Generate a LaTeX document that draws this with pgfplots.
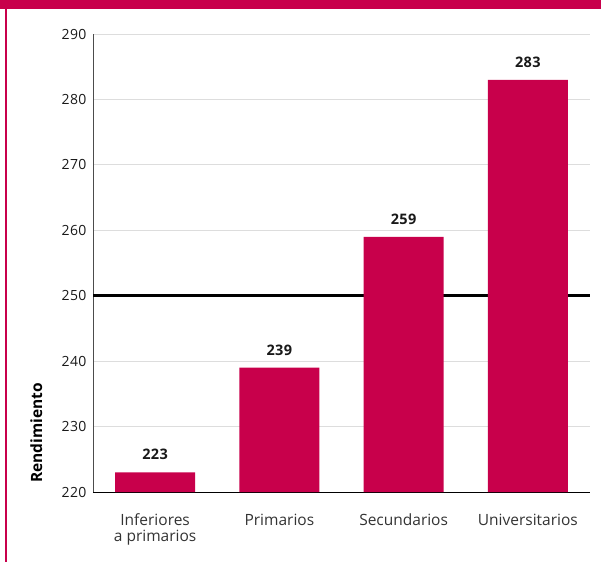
\documentclass[border=0pt]{standalone}
\usepackage{fontspec}
\setmainfont{Open Sans}
\newfontfamily\numfont[LetterSpace=3]{Open Sans}
\usepackage{pgfplots}
\pgfplotsset{compat=1.18}
\definecolor{crimson}{HTML}{C8004B}
\definecolor{gridgray}{HTML}{DDDDDD}

\begin{document}
\begin{tikzpicture}
\begin{axis}[
    scale only axis,
    width=497pt,
    height=458pt,
    xmin=-0.5, xmax=3.5,
    ymin=220, ymax=290,
    ytick={220,230,...,290},
    xtick={0,1,2,3},
    xticklabels={{\begin{tabular}[t]{@{}c@{}}Inferiores\\a primarios\end{tabular}},
      Primarios,Secundarios,Universitarios},
    major tick length=0pt,
    ymajorgrids,
    grid style={gridgray, line width=0.8pt},
    axis x line*=bottom,
    axis y line*=left,
    x axis line style={black, line width=1pt, -},
    y axis line style={black!70, line width=1pt, -},
    /pgf/number format/assume math mode=true,
    yticklabel style={font=\numfont\fontsize{14}{16}\selectfont, text=black!90, xshift=-3pt},
    xticklabel style={font=\fontsize{15.5}{16.2}\selectfont, text=black!80,
      anchor=base, yshift=-33pt},
    clip=false,
]
\addplot[black, line width=3pt] coordinates {(-0.5,250) (3.5,250)};
\addplot[ybar, bar width=80pt, fill=crimson, draw=none,
    nodes near coords,
    every node near coord/.append style={font=\numfont\fontsize{14.5}{16}\selectfont\bfseries, text=black!90, yshift=9pt}]
  coordinates {(0,223) (1,239) (2,259) (3,283)};
\end{axis}
\coordinate (O) at (current axis.south west);
\node[rotate=90, anchor=base west, font=\fontsize{15.5}{18}\selectfont\bfseries, inner sep=0pt]
  at ([shift={(-51pt,9pt)}]O) {Rendimiento};
\fill[crimson] ([shift={(-93pt,483pt)}]O) rectangle ([shift={(508pt,492pt)}]O);
\fill[crimson] ([shift={(-88pt,-70pt)}]O) rectangle ([shift={(-86pt,483pt)}]O);
\pgfresetboundingbox
\path[use as bounding box] ([shift={(-93pt,-70pt)}]O) rectangle ([shift={(508pt,492pt)}]O);
\end{tikzpicture}
\end{document}
